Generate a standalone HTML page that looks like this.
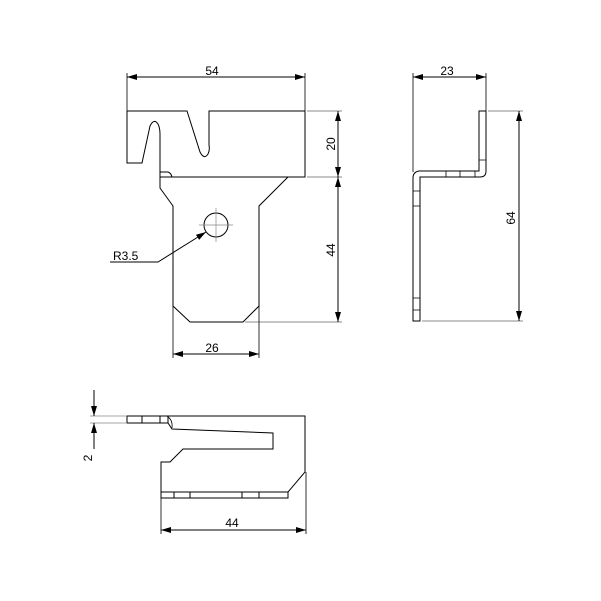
<!DOCTYPE html>
<html><head><style>html,body{margin:0;padding:0;background:#fff}svg{display:block}text{font-family:"Liberation Sans",sans-serif;font-size:12px;fill:#000}</style></head>
<body>
<svg width="601" height="601" viewBox="0 0 601 601" xmlns="http://www.w3.org/2000/svg">
<defs>
<marker id="a" viewBox="0 0 10 6" refX="10" refY="3" markerWidth="10" markerHeight="6" orient="auto-start-reverse" markerUnits="userSpaceOnUse"><path d="M0,0L10,3L0,6z" fill="#000"/></marker>
</defs>
<g fill="none" stroke="#000" stroke-width="1">
<!-- front view -->
<path d="M127,111V163H142L150,126Q154,118 158,124Q160,128 160,134V188L173,206V306L190,322H243L259,306V206L288,177"/>
<path d="M127,111H187L200,152Q204,160 208,154Q210,150 209,145V111H305V177H160"/>
<path d="M160,172H168Q171,173 172,177"/>
<circle cx="216" cy="225" r="12"/>
<path d="M199,225H233M216,208V242" stroke="#888" stroke-width="0.7"/>
<path d="M206,232L158,262H110" marker-start="url(#a)"/>
<!-- dims front -->
<path d="M127,73V111M305,73V111" stroke-width="0.8"/>
<path d="M127,77H305" marker-start="url(#a)" marker-end="url(#a)"/>
<path d="M307,111H342M307,177H342M245,322H342" stroke="#666" stroke-width="0.8"/>
<path d="M338,111V177" marker-start="url(#a)" marker-end="url(#a)"/>
<path d="M338,177V322" marker-start="url(#a)" marker-end="url(#a)"/>
<path d="M173,306V358M259,306V358" stroke-width="0.8"/>
<path d="M173,354H259" marker-start="url(#a)" marker-end="url(#a)"/>
<!-- side view -->
<path d="M413,321V178Q413,172 419,171H479V111H486V171Q486,177 480,177H420V321Z"/>
<path d="M479,171V111" />
<path d="M413,191H420M413,206H420M413,298H420M413,310H420M446,171V177M460,171V177M475,171V177M479,160H486" stroke-width="0.8"/>
<path d="M413,73V172M486,73V111" stroke-width="0.8"/>
<path d="M413,77H486" marker-start="url(#a)" marker-end="url(#a)"/>
<path d="M488,111H523M422,321H523" stroke="#666" stroke-width="0.8"/>
<path d="M519,111V321" marker-start="url(#a)" marker-end="url(#a)"/>
<!-- bottom view -->
<path d="M127,416H305V472L288,492V498H161V462H170L183,449H273V433L172,429L168,423H127Z"/>
<path d="M161,492H288M142,416V423M160,416V423M168,416V423M174,492V498M190,492V498M242,492V498M259,492V498"/>
<path d="M167,416Q173,420 172,428" stroke-width="0.8"/>
<path d="M90,416H127M90,423H127" stroke="#888" stroke-width="0.8"/>
<path d="M94,390V416" marker-end="url(#a)"/>
<path d="M94,449V423" marker-end="url(#a)"/>
<path d="M161,498V534M306,472V534" stroke-width="0.8"/>
<path d="M161,530H306" marker-start="url(#a)" marker-end="url(#a)"/>
</g>
<text x="212" y="75" text-anchor="middle">54</text>
<text x="212" y="352" text-anchor="middle">26</text>
<text x="113" y="260">R3.5</text>
<text transform="translate(335,144) rotate(-90)" text-anchor="middle">20</text>
<text transform="translate(335,250) rotate(-90)" text-anchor="middle">44</text>
<text x="447" y="75" text-anchor="middle">23</text>
<text transform="translate(515,218) rotate(-90)" text-anchor="middle">64</text>
<text transform="translate(92,458) rotate(-90)" text-anchor="middle">2</text>
<text x="232" y="527" text-anchor="middle">44</text>
</svg>
</body></html>
